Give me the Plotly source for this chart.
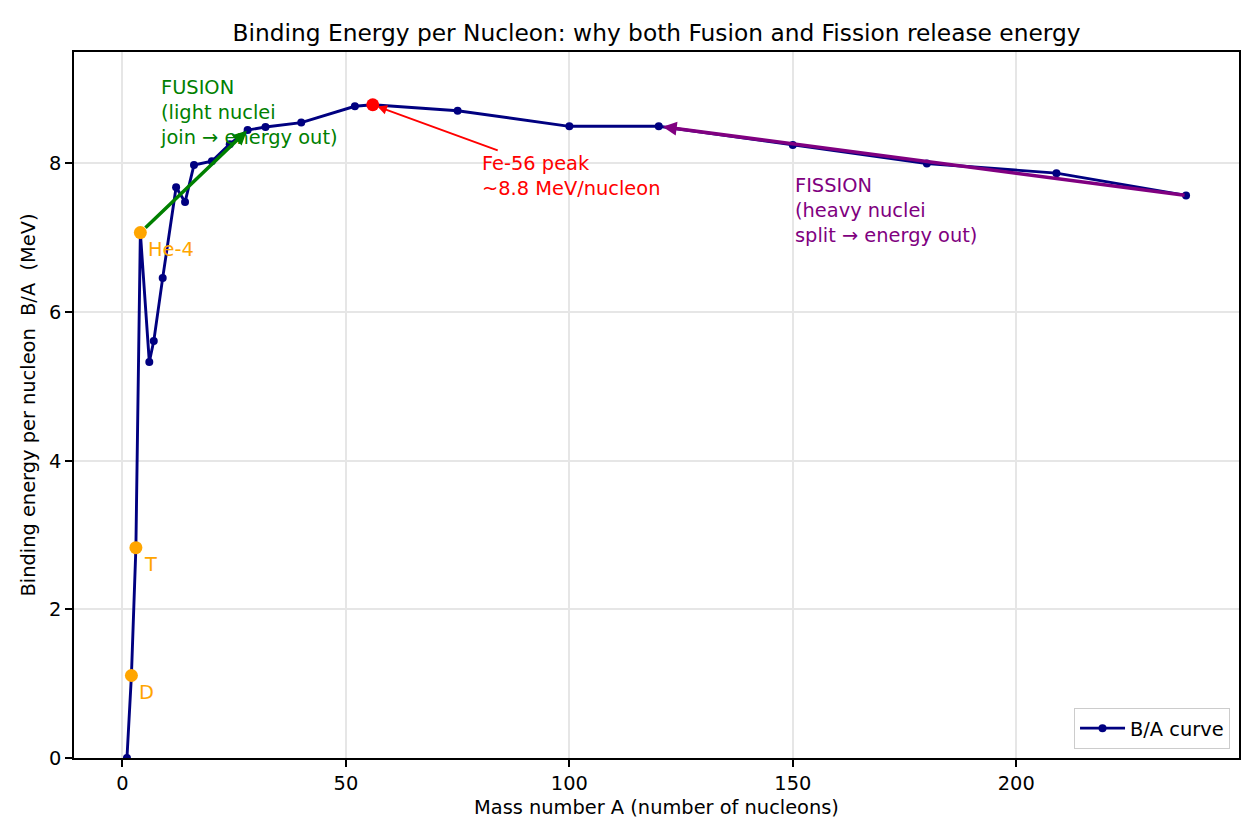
import plotly.graph_objects as go

# ---- data ----
mass_number = [1, 2, 3, 4, 6, 7, 9, 12, 14, 16, 20, 24, 28, 32, 40, 52, 56, 75, 100, 120, 150, 180, 209, 238]
binding_per_nucleon = [0.0, 1.11, 2.83, 7.07, 5.33, 5.61, 6.46, 7.68, 7.48, 7.98, 8.03, 8.26, 8.45,
                       8.49, 8.55, 8.77, 8.79, 8.71, 8.50, 8.50, 8.25, 8.00, 7.87, 7.57]

light_names = ["D", "T", "He-4"]
light_mass = [2, 3, 4]
peak_mass = 56
fusion_end_mass = 28
fission_start_mass = 238
fission_end_mass = 120

title_text = "Binding Energy per Nucleon: why both Fusion and Fission release energy"
x_title = "Mass number A (number of nucleons)"
y_title = "Binding energy per nucleon  B/A  (MeV)"
fusion_lines = ["FUSION", "(light nuclei", "join → energy out)"]
fission_lines = ["FISSION", "(heavy nuclei", "split → energy out)"]
peak_lines = ["Fe-56 peak", "~8.8 MeV/nucleon"]
legend_name = "B/A curve"

x_ticks = [0, 50, 100, 150, 200]
y_ticks = [0, 2, 4, 6, 8]


def ba(a):
    return binding_per_nucleon[mass_number.index(a)]


light_ba = [ba(a) for a in light_mass]

FONT = "DejaVu Sans"
FS = 19.4
NAVY = "#000080"

fig = go.Figure()

fig.add_trace(go.Scatter(
    x=mass_number, y=binding_per_nucleon, mode="lines+markers", name=legend_name,
    line=dict(color=NAVY, width=2.9), marker=dict(color=NAVY, size=8)))

fig.add_trace(go.Scatter(
    x=light_mass, y=light_ba, mode="markers",
    marker=dict(color="#FFA500", size=13), showlegend=False, hoverinfo="skip"))

fig.add_trace(go.Scatter(
    x=[peak_mass], y=[ba(peak_mass)], mode="markers",
    marker=dict(color="#FF0000", size=13), showlegend=False, hoverinfo="skip"))

annotations = []
for name, a, b in zip(light_names, light_mass, light_ba):
    annotations.append(dict(
        x=a, y=b, xref="x", yref="y", text=name, showarrow=False,
        xanchor="left", yanchor="middle", xshift=6, yshift=-17,
        font=dict(family=FONT, size=FS, color="#FFA500")))

# fusion arrow
annotations.append(dict(
    x=fusion_end_mass, y=ba(fusion_end_mass), ax=light_mass[-1], ay=light_ba[-1],
    xref="x", yref="y", axref="x", ayref="y", text="", showarrow=True,
    arrowcolor="#008000", arrowwidth=3.5, arrowhead=2, arrowsize=0.8,
    standoff=1, startstandoff=5))

# fission arrow
annotations.append(dict(
    x=fission_end_mass, y=ba(fission_end_mass), ax=fission_start_mass, ay=ba(fission_start_mass),
    xref="x", yref="y", axref="x", ayref="y", text="", showarrow=True,
    arrowcolor="#800080", arrowwidth=3.5, arrowhead=2, arrowsize=0.8,
    standoff=4, startstandoff=0))

# Fe-56 arrow
annotations.append(dict(
    x=peak_mass, y=ba(peak_mass), ax=84.3, ay=8.17,
    xref="x", yref="y", axref="x", ayref="y", text="", showarrow=True,
    arrowcolor="#FF0000", arrowwidth=1.9, arrowhead=2, arrowsize=1.0,
    standoff=5, startstandoff=0))

annotations.append(dict(
    x=80, y=7.83, xref="x", yref="y", text="<br>".join(peak_lines), showarrow=False,
    xanchor="left", yanchor="middle", align="left",
    font=dict(family=FONT, size=FS, color="#FF0000")))
annotations.append(dict(
    x=8, y=8.68, xref="x", yref="y", text="<br>".join(fusion_lines), showarrow=False,
    xanchor="left", yanchor="middle", align="left",
    font=dict(family=FONT, size=FS, color="#008000")))
annotations.append(dict(
    x=150, y=7.37, xref="x", yref="y", text="<br>".join(fission_lines), showarrow=False,
    xanchor="left", yanchor="middle", align="left",
    font=dict(family=FONT, size=FS, color="#800080")))

axis_common = dict(
    showline=True, linecolor="black", linewidth=1.5, mirror=True,
    ticks="outside", ticklen=7, tickwidth=1.5, tickcolor="black",
    showgrid=True, gridcolor="#e6e6e6", gridwidth=1.5, zeroline=False,
    tickfont=dict(family=FONT, size=FS, color="black"),
)

fig.update_layout(
    width=1260, height=840,
    margin=dict(l=74, r=21, t=52, b=82),
    paper_bgcolor="white", plot_bgcolor="white",
    font=dict(family=FONT, size=FS, color="black"),
    title=dict(text=title_text, x=0.5, xref="paper", y=1 - 33 / 840, yref="container",
               xanchor="center", yanchor="middle",
               font=dict(family=FONT, size=23.3, color="black")),
    xaxis=dict(range=[-10.85, 249.85], tickvals=x_ticks,
               title=dict(text=x_title, standoff=6, font=dict(family=FONT, size=FS)),
               **axis_common),
    yaxis=dict(range=[0, 9.5], tickvals=y_ticks,
               title=dict(text=y_title, standoff=8, font=dict(family=FONT, size=FS)),
               **axis_common),
    legend=dict(x=0.9923, y=0.0127, xanchor="right", yanchor="bottom",
                bgcolor="white", bordercolor="#cccccc", borderwidth=1,
                itemwidth=45,
                font=dict(family=FONT, size=FS, color="black")),
    annotations=annotations,
    showlegend=True,
)

fig.write_html("out.html")
